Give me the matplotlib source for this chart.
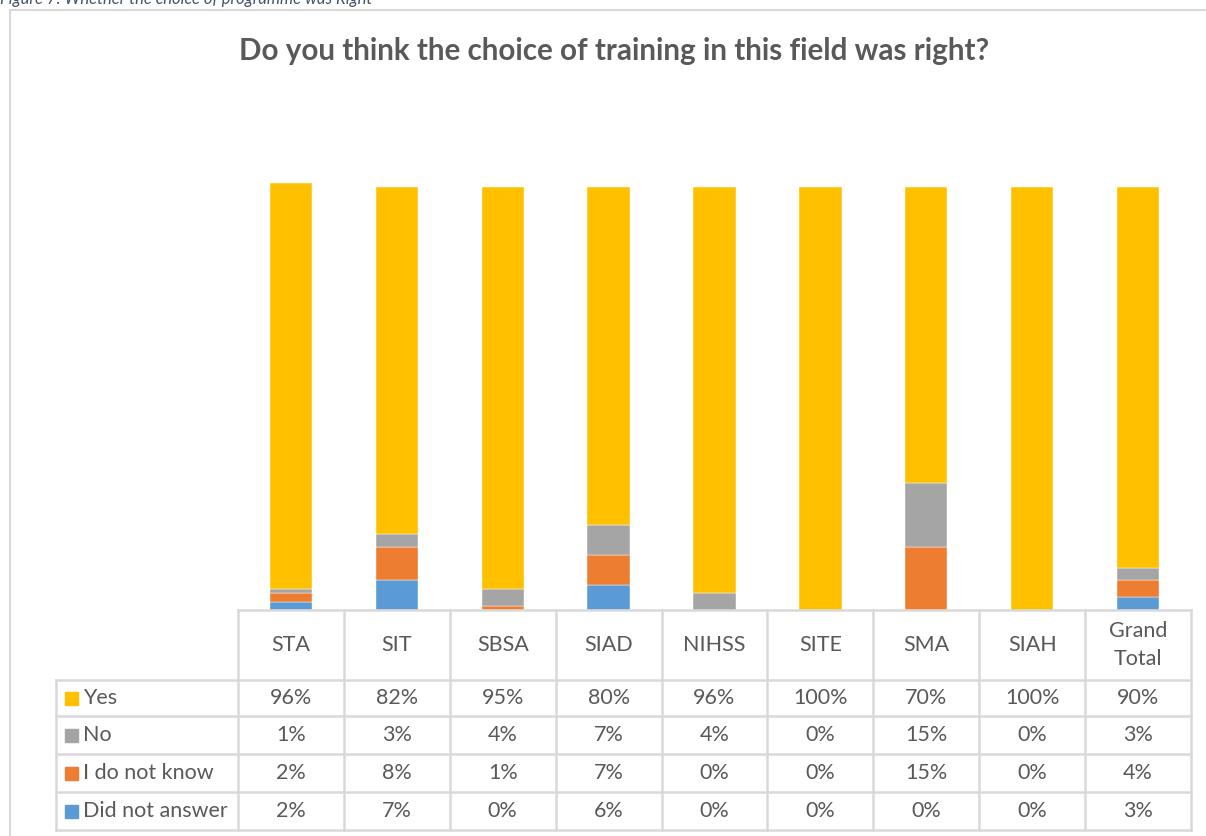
import matplotlib.pyplot as plt
from matplotlib.patches import Rectangle
import numpy as np

plt.rcParams['font.family'] = ['Lato', 'DejaVu Sans']

categories = ['STA', 'SIT', 'SBSA', 'SIAD', 'NIHSS', 'SITE', 'SMA', 'SIAH', 'Grand\nTotal']
series_names = ['Yes', 'No', 'I do not know', 'Did not answer']
yes = [96, 82, 95, 80, 96, 100, 70, 100, 90]
no = [1, 3, 4, 7, 4, 0, 15, 0, 3]
dont_know = [2, 8, 1, 7, 0, 0, 15, 0, 4]
no_answer = [2, 7, 0, 6, 0, 0, 0, 0, 3]
colors = ['#FFC000', '#A5A5A5', '#ED7D31', '#5B9BD5']

W, H = 1206, 836
fig = plt.figure(figsize=(W / 100, H / 100), dpi=100)
text_col = '#595959'
line_col = '#D9D9D9'
fs = 15.5


def fx(px):
    return px / W


def fy(py):
    return 1 - py / H


# outer chart border + caption (cut at the top like the source)
fig.patches.append(Rectangle((fx(10), fy(836 + 5)), fx(1206), fy(10) - fy(841),
                             transform=fig.transFigure, fill=False, ec=line_col, lw=1.5))
fig.text(fx(0), fy(4), 'Figure 7: Whether the choice of programme was Right', style='italic',
         color='#44546A', fontsize=12, va='baseline', ha='left')

fig.text(fx(614), fy(51), 'Do you think the choice of training in this field was right?',
         ha='center', va='center', fontsize=21.3, fontweight='bold', color=text_col)

# bars
x0, x1 = 238, 1191
ybase, ytop = 610, 102
ax = fig.add_axes([fx(x0), fy(ybase), fx(x1) - fx(x0), fy(ytop) - fy(ybase)])
x = np.arange(len(categories))
stack = [no_answer, dont_know, no, yes]
stack_colors = colors[::-1]
bottom = np.zeros(len(categories))
for vals, c in zip(stack, stack_colors):
    v = np.array(vals) / 100
    ax.bar(x, v, 0.4, bottom=bottom, color=c, edgecolor='white', linewidth=0.3)
    bottom += v
ax.set_xlim(-0.5, len(categories) - 0.5)
ax.set_ylim(0, (ybase - ytop) / 423)
ax.axis('off')

# data table
tx0 = 56
rows_y = [610, 680, 716, 754, 792, 830]
colw = (x1 - x0) / len(categories)
tab = fig.add_axes([fx(tx0), fy(830), fx(x1) - fx(tx0), fy(610) - fy(830)])
tab.set_xlim(tx0, x1)
tab.set_ylim(830, 610)
tab.axis('off')
lw = 1.8
tab.plot([x0, x1], [610, 610], color=line_col, lw=lw, clip_on=False)
for yy in rows_y[1:]:
    tab.plot([tx0, x1], [yy, yy], color=line_col, lw=lw, clip_on=False)
for i in range(len(categories) + 1):
    xx = x0 + i * colw
    tab.plot([xx, xx], [610, 830], color=line_col, lw=lw, clip_on=False)
tab.plot([tx0, tx0], [680, 830], color=line_col, lw=lw, clip_on=False)

for i, cat in enumerate(categories):
    tab.text(x0 + (i + 0.5) * colw, 645, cat, ha='center', va='center',
             fontsize=fs, color=text_col, linespacing=1.45)

table_vals = [yes, no, dont_know, no_answer]
for r, (name, vals, c) in enumerate(zip(series_names, table_vals, colors)):
    yc = (rows_y[r + 1] + rows_y[r + 2]) / 2
    tab.add_patch(Rectangle((65, yc - 6.5), 13, 13, color=c))
    tab.text(83, yc, name, ha='left', va='center', fontsize=fs, color=text_col)
    for i, v in enumerate(vals):
        tab.text(x0 + (i + 0.5) * colw, yc, f'{v}%', ha='center', va='center',
                 fontsize=fs, color=text_col)

fig.savefig('out.png', dpi=100, facecolor='white')
